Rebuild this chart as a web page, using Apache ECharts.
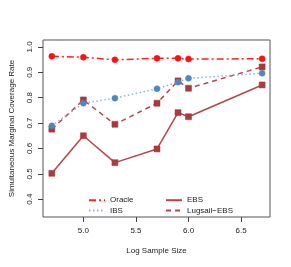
<!DOCTYPE html>
<html><head><meta charset="utf-8">
<script src="https://cdn.jsdelivr.net/npm/echarts@6/dist/echarts.min.js"></script>
<style>html,body{margin:0;padding:0;background:#fff}#c{width:291px;height:267px}</style>
</head><body><div id="c"></div>
<script>
const logN = [4.70, 5.00, 5.30, 5.70, 5.90, 6.00, 6.70];
const oracle = [0.963, 0.959, 0.949, 0.955, 0.955, 0.952, 0.953];
const ibs = [0.689, 0.778, 0.798, 0.835, 0.861, 0.876, 0.896];
const ebs = [0.502, 0.650, 0.544, 0.598, 0.741, 0.725, 0.850];
const lugsail = [0.676, 0.791, 0.695, 0.778, 0.866, 0.837, 0.921];
const xTicks = [5.0, 5.5, 6.0, 6.5];
const yTicks = [0.4, 0.5, 0.6, 0.7, 0.8, 0.9, 1.0];

const pair = a => a.map((v, i) => [logN[i], v]);
const FONT = 'Liberation Sans, Arial, sans-serif';
const red = '#b3474b';
function mk(name, data, color, type, symbol, symColor, z) {
  return {
    name, type: 'line', data: pair(data), symbol, symbolSize: 6, z,
    lineStyle: {color, width: 1.5, type},
    itemStyle: {color: symColor, borderColor: symColor, borderWidth: 0.5},
    emphasis: {disabled: true}, animation: false
  };
}
const chart = echarts.init(document.getElementById('c'), null, {renderer: 'canvas'});
chart.setOption({
  animation: false,
  grid: {left: 39.5, right: 21, top: 40, bottom: 50, show: true, borderColor: '#555', borderWidth: 1},
  xAxis: {
    type: 'value', min: 4.616, max: 6.775,
    name: 'Log Sample Size', nameLocation: 'middle', nameGap: 30,
    nameTextStyle: {fontFamily: FONT, fontSize: 8, color: '#222'},
    splitLine: {show: false},
    axisLine: {show: false},
    axisTick: {show: true, inside: false, length: 5, customValues: xTicks, lineStyle: {color: '#444'}},
    axisLabel: {customValues: xTicks, margin: 10, fontFamily: FONT, fontSize: 8, color: '#222', formatter: v => v.toFixed(1)}
  },
  yAxis: {
    type: 'value', min: 0.330, max: 1.027,
    name: 'Simultaneous Marginal Coverage Rate', nameLocation: 'middle', nameGap: 27,
    nameTextStyle: {fontFamily: FONT, fontSize: 8, color: '#222'},
    splitLine: {show: false},
    axisLine: {show: false},
    axisTick: {show: true, inside: false, length: 5, customValues: yTicks, lineStyle: {color: '#444'}},
    axisLabel: {customValues: yTicks, rotate: 90, margin: 9.5,
      fontFamily: FONT, fontSize: 8, color: '#222', formatter: v => v.toFixed(1)}
  },
  legend: [
    {data: ['Oracle', 'IBS'], orient: 'vertical', left: 83, top: 191, itemWidth: 16, itemHeight: 8, itemGap: 2,
     itemStyle: {opacity: 0}, textStyle: {fontFamily: FONT, fontSize: 8, color: '#222'}, selectedMode: false},
    {data: ['EBS', 'Lugsail\u2212EBS'], orient: 'vertical', left: 160, top: 191, itemWidth: 16, itemHeight: 8, itemGap: 2,
     itemStyle: {opacity: 0}, textStyle: {fontFamily: FONT, fontSize: 8, color: '#222'}, selectedMode: false}
  ],
  series: [
    mk('Oracle', oracle, '#ff2020', [7, 3, 2, 3], 'circle', '#ff1010', 5),
    mk('IBS', ibs, '#8fb3e0', [1.5, 2.5], 'circle', '#4f88c0', 4),
    mk('EBS', ebs, red, 'solid', 'rect', '#ad3a3e', 3),
    mk('Lugsail\u2212EBS', lugsail, red, [5, 4], 'rect', '#a8383c', 3)
  ]
});
</script></body></html>
